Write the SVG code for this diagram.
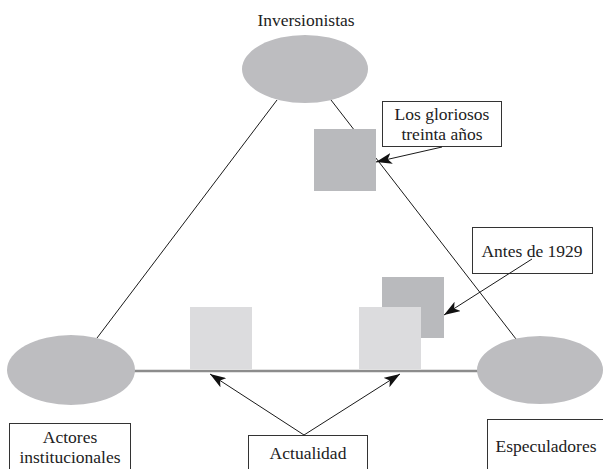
<svg xmlns="http://www.w3.org/2000/svg" width="603" height="469" viewBox="0 0 603 469">
  <style>
    .actor { fill: #bdbdc0; stroke: none; }
    .era-dark { fill: #b9babd; }
    .era-light { fill: #dcdcde; }
    .edge { stroke: #1a1a1a; stroke-width: 1; fill: none; }
    .base { stroke: #8c8c8c; stroke-width: 2.5; fill: none; }
    .box { fill: #ffffff; stroke: #333333; stroke-width: 1; }
    .pointer { stroke: #1a1a1a; stroke-width: 1; fill: none; marker-end: url(#head); }
    text { font-family: "Liberation Serif", "Times New Roman", serif; font-size: 17.5px; fill: #222222; text-anchor: middle; }
  </style>
  <defs>
    <marker id="head" viewBox="0 0 16 11" refX="16" refY="5.5" markerWidth="16" markerHeight="11" markerUnits="userSpaceOnUse" orient="auto">
      <path d="M0,0 L16,5.5 L0,11 L4,5.5 Z" fill="#111111"/>
    </marker>
  </defs>

  <rect width="603" height="469" fill="#ffffff"/>

  <!-- triangle sides -->
  <g id="connectors">
    <line class="edge" x1="277" y1="100" x2="97" y2="338"/>
    <line class="edge" x1="331" y1="100" x2="516" y2="339"/>
    <line class="base" x1="134" y1="371" x2="478" y2="371"/>
  </g>

  <!-- actors -->
  <g id="inversionistas">
    <ellipse class="actor" cx="305" cy="69" rx="63" ry="34"/>
    <text x="306" y="26">Inversionistas</text>
  </g>
  <g id="actores-institucionales">
    <ellipse class="actor" cx="71" cy="370" rx="64" ry="35"/>
    <rect class="box" x="9.5" y="423.5" width="121" height="50"/>
    <text x="70" y="443">Actores</text>
    <text x="70" y="463">institucionales</text>
  </g>
  <g id="especuladores">
    <ellipse class="actor" cx="540" cy="370" rx="63" ry="34"/>
    <rect class="box" x="487.5" y="419.5" width="120" height="55"/>
    <text x="546" y="452">Especuladores</text>
  </g>

  <!-- periods -->
  <g id="gloriosos-treinta">
    <rect class="era-dark" x="314" y="129" width="62" height="62"/>
    <rect class="box" x="382.5" y="101.5" width="119" height="45"/>
    <text x="442" y="120">Los gloriosos</text>
    <text x="442" y="140">treinta años</text>
  </g>
  <g id="antes-1929">
    <rect class="era-dark" x="382" y="277" width="62" height="61"/>
    <rect class="box" x="472.5" y="227.5" width="120" height="46"/>
    <text x="532" y="257">Antes de 1929</text>
  </g>
  <g id="actualidad">
    <rect class="era-light" x="190" y="307" width="62" height="62"/>
    <rect class="era-light" x="359" y="307" width="62" height="62"/>
    <rect class="box" x="248.5" y="435.5" width="119" height="40"/>
    <text x="308" y="459">Actualidad</text>
  </g>

  <!-- label pointers -->
  <g id="pointers">
    <line class="pointer" x1="442" y1="147" x2="376" y2="162"/>
    <line class="pointer" x1="532" y1="259" x2="444" y2="315"/>
    <line class="pointer" x1="304" y1="435" x2="210" y2="374"/>
    <line class="pointer" x1="304" y1="435" x2="400" y2="374"/>
  </g>
</svg>
